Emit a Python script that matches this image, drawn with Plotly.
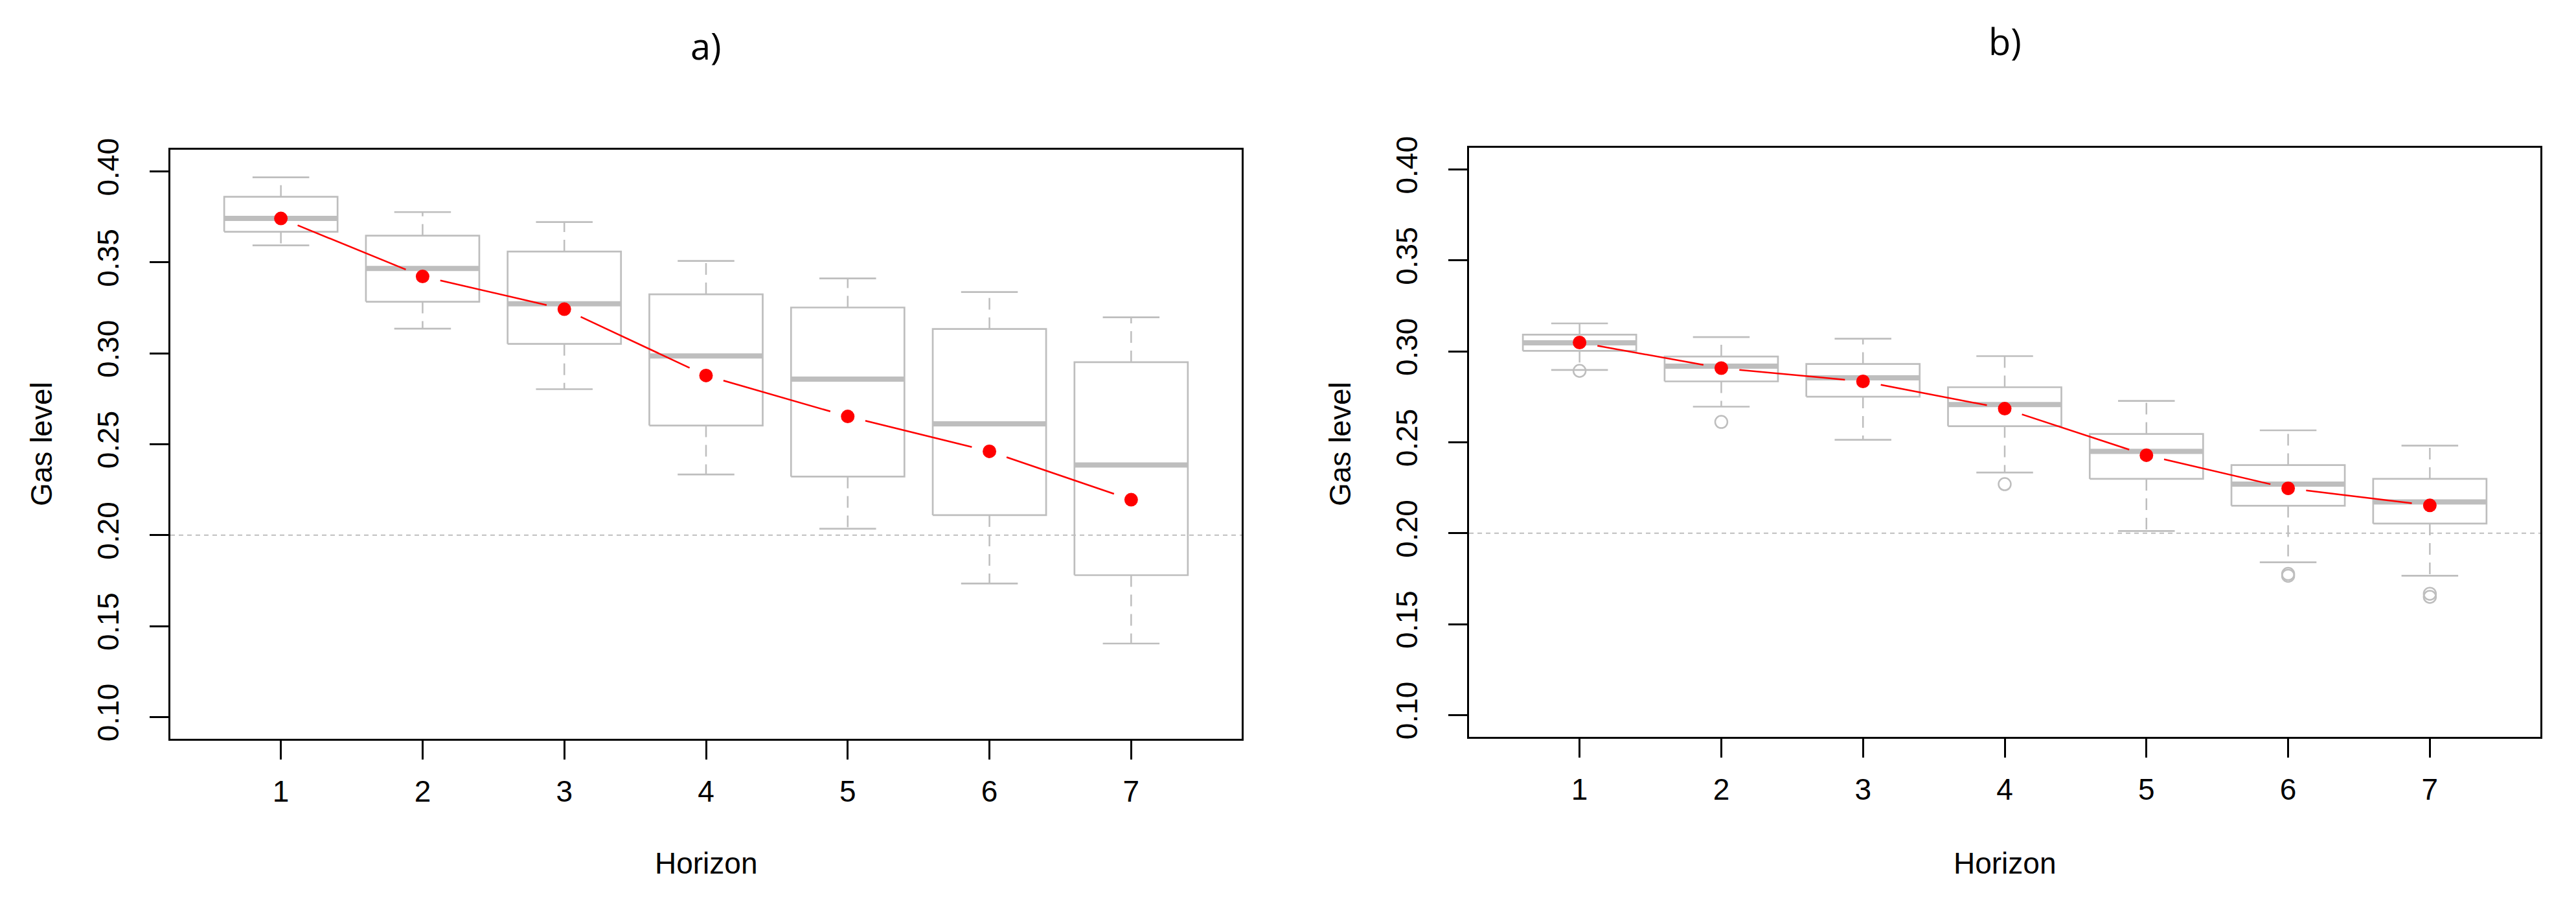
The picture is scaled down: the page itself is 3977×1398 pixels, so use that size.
import math
import plotly.graph_objects as go

# Horizons (x categories)
horizon = [1, 2, 3, 4, 5, 6, 7]
y_ticks = [0.10, 0.15, 0.20, 0.25, 0.30, 0.35, 0.40]
threshold = 0.20

# Panel a) box statistics
a_whisk_lo = [0.3594, 0.3136, 0.2803, 0.2334, 0.2035, 0.1734, 0.1404]
a_q1 = [0.3669, 0.3284, 0.3052, 0.2603, 0.2322, 0.2110, 0.1780]
a_median = [0.3742, 0.3467, 0.3273, 0.2986, 0.2858, 0.2612, 0.2386]
a_q3 = [0.3861, 0.3647, 0.3560, 0.3325, 0.3252, 0.3134, 0.2951]
a_whisk_hi = [0.3968, 0.3777, 0.3722, 0.3508, 0.3412, 0.3337, 0.3198]
a_mean = [0.3742, 0.3423, 0.3243, 0.2878, 0.2653, 0.2461, 0.2195]
a_out_x = []
a_out_y = []

# Panel b) box statistics
b_whisk_lo = [0.2898, 0.2696, 0.2514, 0.2334, 0.2012, 0.1840, 0.1766]
b_q1 = [0.3003, 0.2835, 0.2751, 0.2589, 0.2299, 0.2151, 0.2053]
b_median = [0.3047, 0.2919, 0.2855, 0.2708, 0.2450, 0.2270, 0.2172]
b_q3 = [0.3092, 0.2972, 0.2931, 0.2803, 0.2546, 0.2375, 0.2299]
b_whisk_hi = [0.3154, 0.3079, 0.3070, 0.2974, 0.2728, 0.2566, 0.2482]
b_mean = [0.3049, 0.2908, 0.2835, 0.2685, 0.2429, 0.2247, 0.2153]
b_out_x = [1, 2, 4, 6, 6, 7, 7]
b_out_y = [0.2893, 0.2612, 0.2270, 0.1776, 0.1766, 0.1667, 0.1650]

W, H = 3977, 1398
X_RANGE = [0.22, 7.78]
Y_RANGE = [0.088, 0.412]
GREY = "#BEBEBE"
FONT = "Liberation Sans, Arial, sans-serif"

# pixel scale of a panel, used to leave the gaps around the mean points
PX_X = 1654 / (X_RANGE[1] - X_RANGE[0])
PX_Y = 909 / (Y_RANGE[1] - Y_RANGE[0])


def box_traces(q1, med, q3, lo, hi, out_x, out_y, xa, ya, half=0.4, staple=0.2):
    wx, wy, rx, ry, mx, my, cx, cy = [], [], [], [], [], [], [], []
    for h, a, m, b, l, u in zip(horizon, q1, med, q3, lo, hi):
        wx += [h, h, None, h, h, None]
        wy += [b, u, None, a, l, None]
        rx += [h - half, h + half, h + half, h - half, h - half, None]
        ry += [a, a, b, b, a, None]
        mx += [h - half, h + half, None]
        my += [m, m, None]
        cx += [h - staple, h + staple, None, h - staple, h + staple, None]
        cy += [u, u, None, l, l, None]
    common = dict(mode="lines", xaxis=xa, yaxis=ya, showlegend=False, hoverinfo="skip")
    traces = [
        go.Scatter(x=wx, y=wy, line=dict(color=GREY, width=2.5, dash="18px,12px"), **common),
        go.Scatter(x=rx, y=ry, line=dict(color=GREY, width=2.7), **common),
        go.Scatter(x=mx, y=my, line=dict(color=GREY, width=8), **common),
        go.Scatter(x=cx, y=cy, line=dict(color=GREY, width=2.7), **common),
    ]
    if out_x:
        traces.append(go.Scatter(
            x=out_x, y=out_y, mode="markers", xaxis=xa, yaxis=ya, showlegend=False,
            marker=dict(symbol="circle-open", size=19, color=GREY, line=dict(width=2.5)),
        ))
    return traces


def mean_traces(means, xa, ya, gap=28):
    lx, ly = [], []
    for i in range(len(horizon) - 1):
        x0, x1 = horizon[i], horizon[i + 1]
        y0, y1 = means[i], means[i + 1]
        length = math.hypot((x1 - x0) * PX_X, (y1 - y0) * PX_Y)
        f = gap / length
        lx += [x0 + f * (x1 - x0), x1 - f * (x1 - x0), None]
        ly += [y0 + f * (y1 - y0), y1 - f * (y1 - y0), None]
    return [
        go.Scatter(x=lx, y=ly, mode="lines", xaxis=xa, yaxis=ya, showlegend=False,
                   line=dict(color="red", width=2.5)),
        go.Scatter(x=horizon, y=means, mode="markers", xaxis=xa, yaxis=ya, showlegend=False,
                   marker=dict(color="red", size=21)),
    ]


fig = go.Figure()
for t in box_traces(a_q1, a_median, a_q3, a_whisk_lo, a_whisk_hi, a_out_x, a_out_y, "x", "y"):
    fig.add_trace(t)
for t in mean_traces(a_mean, "x", "y"):
    fig.add_trace(t)
for t in box_traces(b_q1, b_median, b_q3, b_whisk_lo, b_whisk_hi, b_out_x, b_out_y, "x2", "y2"):
    fig.add_trace(t)
for t in mean_traces(b_mean, "x2", "y2"):
    fig.add_trace(t)

# dotted reference line at 0.20
for xr, yr in [("x", "y"), ("x2", "y2")]:
    fig.add_shape(type="line", xref=xr + " domain", yref=yr, x0=0, x1=1, y0=threshold, y1=threshold,
                  line=dict(color=GREY, width=2, dash="7px,6px"), layer="below")

xaxis_style = dict(
    range=X_RANGE, tickvals=horizon, ticks="outside", ticklen=29, tickwidth=2.5, tickcolor="black",
    showline=True, linecolor="black", linewidth=2.5, mirror=True, showgrid=False, zeroline=False,
    tickfont=dict(family=FONT, size=46, color="black"), ticklabelstandoff=10,
)
yaxis_style = dict(
    range=Y_RANGE, tickvals=y_ticks, ticktext=[f"{v:.2f}" for v in y_ticks], ticks="outside",
    ticklen=29, tickwidth=2.5, tickcolor="black", tickangle=-90,
    showline=True, linecolor="black", linewidth=2.5, mirror=True, showgrid=False, zeroline=False,
    tickfont=dict(family=FONT, size=46, color="black"), ticklabelstandoff=30,
)

fig.update_layout(
    width=W, height=H,
    margin=dict(l=0, r=0, t=219, b=266),
    plot_bgcolor="white", paper_bgcolor="white",
    xaxis=dict(domain=[255 / W, 1909 / W], anchor="y", **xaxis_style),
    yaxis=dict(domain=[0, 909 / 913], anchor="x", **yaxis_style),
    xaxis2=dict(domain=[2260 / W, 3914 / W], anchor="y2", **xaxis_style),
    yaxis2=dict(domain=[3 / 913, 912 / 913], anchor="x2", **yaxis_style),
)

label_font = dict(family=FONT, size=46, color="black")
title_font = dict(family="Open Sans, Noto Sans, sans-serif", size=56, color="black")
for cx_px, ylab_px, title, ty_px in [(1082, 56, "a)", 62), (3087, 2061, "b)", 55)]:
    fig.add_annotation(text="Gas level", x=ylab_px / W, y=(1132 - 677) / 913, xref="paper", yref="paper",
                       textangle=-90, showarrow=False, font=label_font, xanchor="center", yanchor="middle")
    fig.add_annotation(text="Horizon", x=cx_px / W, y=-(1324 - 1132) / 913, xref="paper", yref="paper",
                       showarrow=False, font=label_font, xanchor="center", yanchor="middle")
    fig.add_annotation(text=title, x=cx_px / W, y=(1132 - ty_px) / 913, xref="paper", yref="paper",
                       showarrow=False, font=title_font, xanchor="center", yanchor="middle")

fig.write_html("out.html")
